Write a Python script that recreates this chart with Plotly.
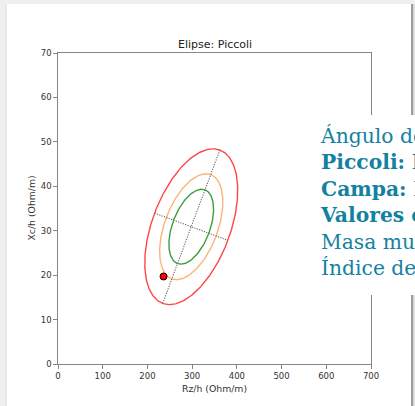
import numpy as np
import plotly.graph_objects as go

# ---- data ----
chart_title = "Elipse: Piccoli"
x_label = "Rz/h (Ohm/m)"
y_label = "Xc/h (Ohm/m)"
x_ticks = [0, 100, 200, 300, 400, 500, 600, 700]
y_ticks = [0, 10, 20, 30, 40, 50, 60, 70]

# reference ellipse (Piccoli): centre and conjugate half-axes per unit of spread
ellipse_center = [298.0, 30.9]
half_axis_major = [26.1, 7.05]
half_axis_minor = [33.5, -1.25]
ellipse_levels = ["50%", "75%", "95%"]
ellipse_scale = [1.1774, 1.6651, 2.4477]
ellipse_colors = ["#3d9e3d", "#f9b578", "#ff4646"]

# patient point
patient_rz = [236]
patient_xc = [19.7]

info_lines = [
    "Ángulo de fase: 5.2°",
    "<b>Piccoli:</b> Percentil 75-95",
    "<b>Campa:</b> Percentil 50-75",
    "<b>Valores en rango</b>",
    "Masa muscular adecuada",
    "Índice de hidratación normal",
]

# ---- layout helpers (pixel -> paper) ----
W, H = 415, 406
L, R, T, B = 58, 371, 53, 364


def pxx(px):
    return (px - L) / (R - L)


def pxy(py):
    return (B - py) / (B - T)


fig = go.Figure()

t = np.linspace(0, 2 * np.pi, 361)
cx, cy = ellipse_center
for name, k, col in zip(ellipse_levels, ellipse_scale, ellipse_colors):
    ex = cx + k * (half_axis_major[0] * np.cos(t) + half_axis_minor[0] * np.sin(t))
    ey = cy + k * (half_axis_major[1] * np.cos(t) + half_axis_minor[1] * np.sin(t))
    fig.add_trace(go.Scatter(x=ex, y=ey, mode="lines", name=name,
                             line=dict(color=col, width=1.4), hoverinfo="skip"))

kmax = ellipse_scale[-1]
for ax in (half_axis_major, half_axis_minor):
    fig.add_trace(go.Scatter(
        x=[cx - kmax * ax[0], cx + kmax * ax[0]],
        y=[cy - kmax * ax[1], cy + kmax * ax[1]],
        mode="lines", line=dict(color="#666666", width=1.1, dash="1.2px,1.3px"),
        hoverinfo="skip"))

fig.add_trace(go.Scatter(x=patient_rz, y=patient_xc, mode="markers",
                         marker=dict(color="#ff0000", size=7,
                                     line=dict(color="#000000", width=1))))

axis_common = dict(showgrid=False, zeroline=False, showline=True, mirror=True,
                   linecolor="#858585", linewidth=1.2, ticks="outside",
                   ticklen=3.5, tickwidth=1, tickcolor="#858585",
                   tickfont=dict(family="DejaVu Sans", size=8.5, color="#333333"))

fig.update_xaxes(range=[0, 700], tickvals=x_ticks, **axis_common)
fig.update_yaxes(range=[0, 70], tickvals=y_ticks, **axis_common)

shapes = [
    # white card
    dict(type="rect", xref="paper", yref="paper", x0=pxx(7), x1=pxx(411),
         y0=pxy(4), y1=pxy(410), fillcolor="#ffffff", line=dict(width=0),
         layer="below"),
    # left soft shadow
    dict(type="rect", xref="paper", yref="paper", x0=pxx(5), x1=pxx(7),
         y0=pxy(4), y1=pxy(410), fillcolor="#e8e8e8", line=dict(width=0),
         layer="below"),
    # right edge bar
    dict(type="rect", xref="paper", yref="paper", x0=pxx(411), x1=pxx(413),
         y0=pxy(4), y1=pxy(410), fillcolor="#9c9c9c", line=dict(width=0),
         layer="above"),
    dict(type="rect", xref="paper", yref="paper", x0=pxx(413), x1=pxx(416),
         y0=pxy(4), y1=pxy(410), fillcolor="#dcdcdc", line=dict(width=0),
         layer="above"),
    # info box background
    dict(type="rect", xref="paper", yref="paper", x0=pxx(305), x1=pxx(420),
         y0=pxy(115), y1=pxy(295), fillcolor="#ffffff", line=dict(width=0),
         layer="above"),
]

annotations = [
    dict(text=x_label, xref="paper", yref="paper", x=0.5, y=pxy(388),
         xanchor="center", yanchor="middle", showarrow=False,
         font=dict(family="DejaVu Sans", size=9.3, color="#333333")),
    dict(text=y_label, xref="paper", yref="paper", x=pxx(31), y=0.5,
         xanchor="center", yanchor="middle", showarrow=False, textangle=-90,
         font=dict(family="DejaVu Sans", size=9.3, color="#333333")),
    dict(text=chart_title, xref="paper", yref="paper", x=0.5, y=pxy(44),
         xanchor="center", yanchor="middle", showarrow=False,
         font=dict(family="DejaVu Sans", size=11, color="#222222")),
    dict(text="<br>".join(info_lines), xref="paper", yref="paper",
         x=pxx(319), y=pxy(202), xanchor="left", yanchor="middle",
         align="left", showarrow=False, borderpad=0,
         font=dict(family="DejaVu Serif", size=20.3, color="#13829f")),
]

fig.update_layout(width=W, height=H, margin=dict(l=L, r=W - R, t=T, b=H - B),
                  paper_bgcolor="#efefef", plot_bgcolor="rgba(0,0,0,0)",
                  showlegend=False, shapes=shapes, annotations=annotations)

fig.write_html("out.html", config={"displayModeBar": False},
               post_script="document.body.style.margin='0px';"
                           "document.body.style.overflow='hidden';")
